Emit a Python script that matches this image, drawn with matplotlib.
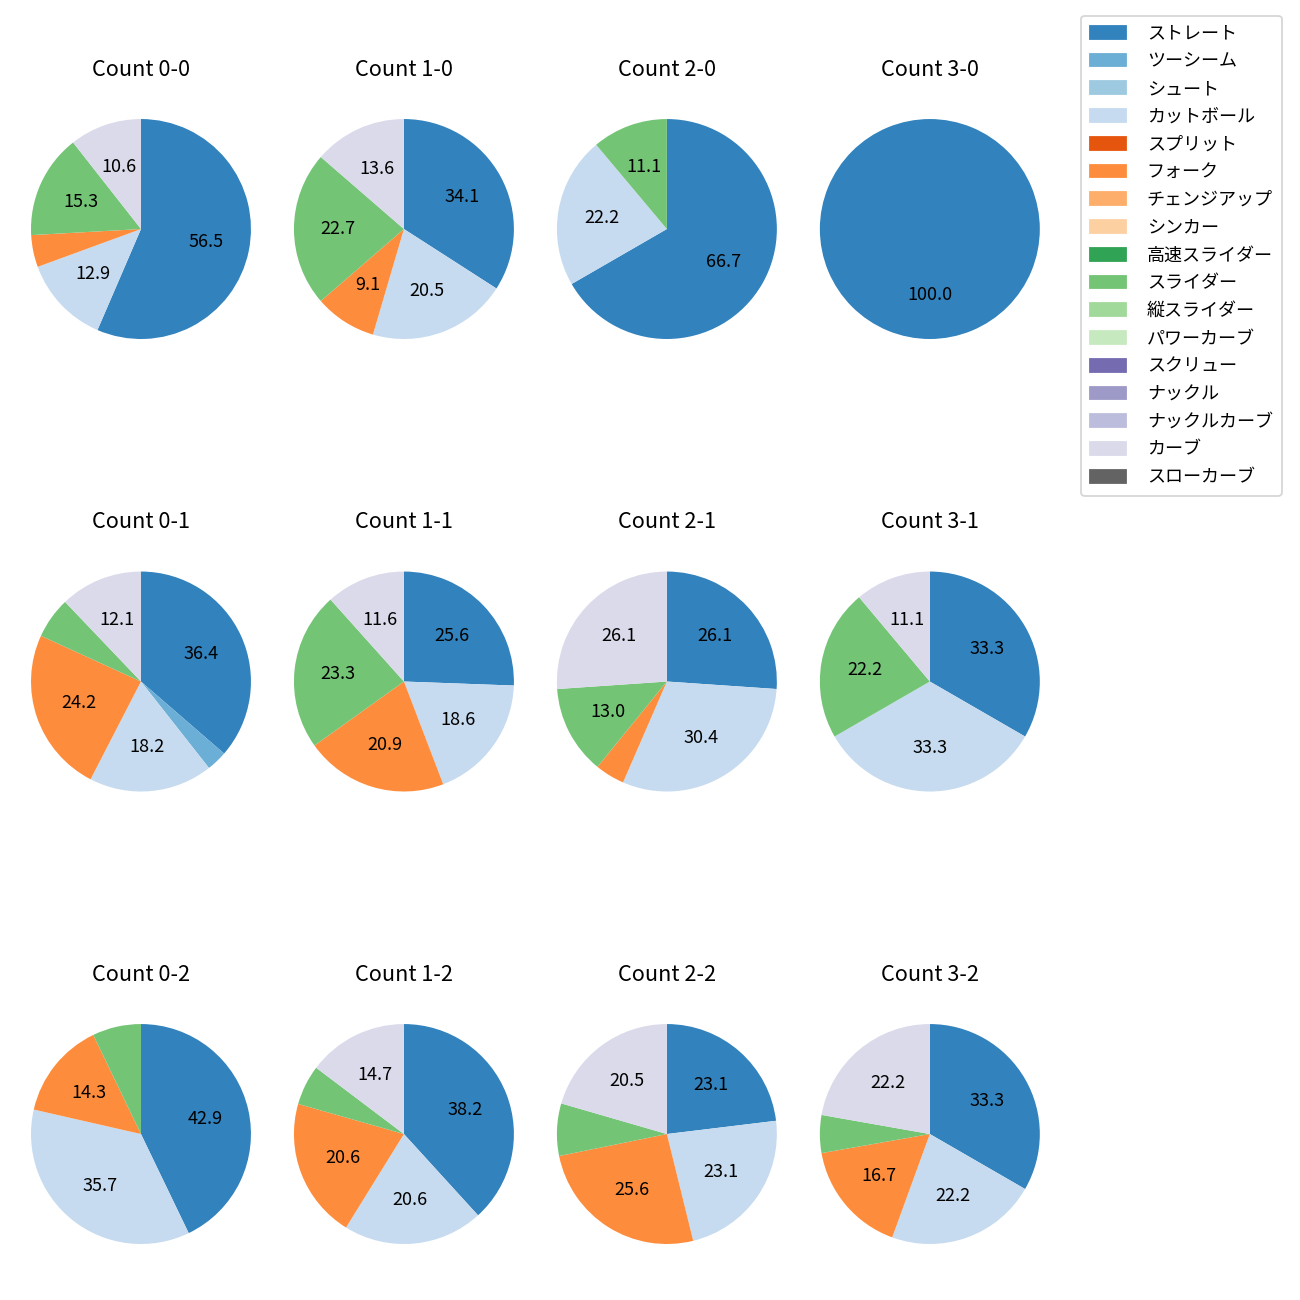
import numpy as np
import matplotlib.pyplot as plt

plt.rcParams['font.family'] = ['Noto Sans CJK JP', 'DejaVu Sans']

# 球種 (凡例の順)
pitch_types = ['ストレート', 'ツーシーム', 'シュート', 'カットボール', 'スプリット', 'フォーク',
               'チェンジアップ', 'シンカー', '高速スライダー', 'スライダー', '縦スライダー',
               'パワーカーブ', 'スクリュー', 'ナックル', 'ナックルカーブ', 'カーブ', 'スローカーブ']

# カウントごとの球数 (ストレート, ツーシーム, カットボール, フォーク, スライダー, カーブ)
used_types = ['ストレート', 'ツーシーム', 'カットボール', 'フォーク', 'スライダー', 'カーブ']
count_0_0 = [48, 0, 11, 4, 13, 9]
count_1_0 = [15, 0, 9, 4, 10, 6]
count_2_0 = [6, 0, 2, 0, 1, 0]
count_3_0 = [1, 0, 0, 0, 0, 0]
count_0_1 = [12, 1, 6, 8, 2, 4]
count_1_1 = [11, 0, 8, 9, 10, 5]
count_2_1 = [6, 0, 7, 1, 3, 6]
count_3_1 = [3, 0, 3, 0, 2, 1]
count_0_2 = [6, 0, 5, 2, 1, 0]
count_1_2 = [13, 0, 7, 7, 2, 5]
count_2_2 = [9, 0, 9, 10, 3, 8]
count_3_2 = [6, 0, 4, 3, 1, 4]

counts = {
    (0, 0): count_0_0, (1, 0): count_1_0, (2, 0): count_2_0, (3, 0): count_3_0,
    (0, 1): count_0_1, (1, 1): count_1_1, (2, 1): count_2_1, (3, 1): count_3_1,
    (0, 2): count_0_2, (1, 2): count_1_2, (2, 2): count_2_2, (3, 2): count_3_2,
}

cmap = plt.get_cmap('tab20c')
colors = {name: cmap(i) for i, name in enumerate(pitch_types)}


def autopct(p):
    return f'{p:.1f}' if p >= 8 else ''


fig, axes = plt.subplots(3, 4, figsize=(10, 10), dpi=130)
fig.subplots_adjust(left=0.0027, right=0.821, top=0.9296, bottom=0.0219,
                    wspace=-0.0436, hspace=0.6455)

for (b, s), vals in counts.items():
    ax = axes[s, b]
    names = [n for n, v in zip(used_types, vals) if v > 0]
    v = [x for x in vals if x > 0]
    ax.pie(v, colors=[colors[n] for n in names], startangle=90, counterclock=False,
           autopct=autopct, textprops={'fontsize': 10})
    ax.set_title(f'Count {b}-{s}', fontsize=12, pad=8.8)

handles = [plt.Rectangle((0, 0), 1, 1, color=colors[n]) for n in pitch_types]
fig.legend(handles, pitch_types, loc='upper right', bbox_to_anchor=(0.993, 0.995),
           fontsize=10, handletextpad=1.13, labelspacing=0.54, borderpad=0.5)

fig.savefig('out.png')
